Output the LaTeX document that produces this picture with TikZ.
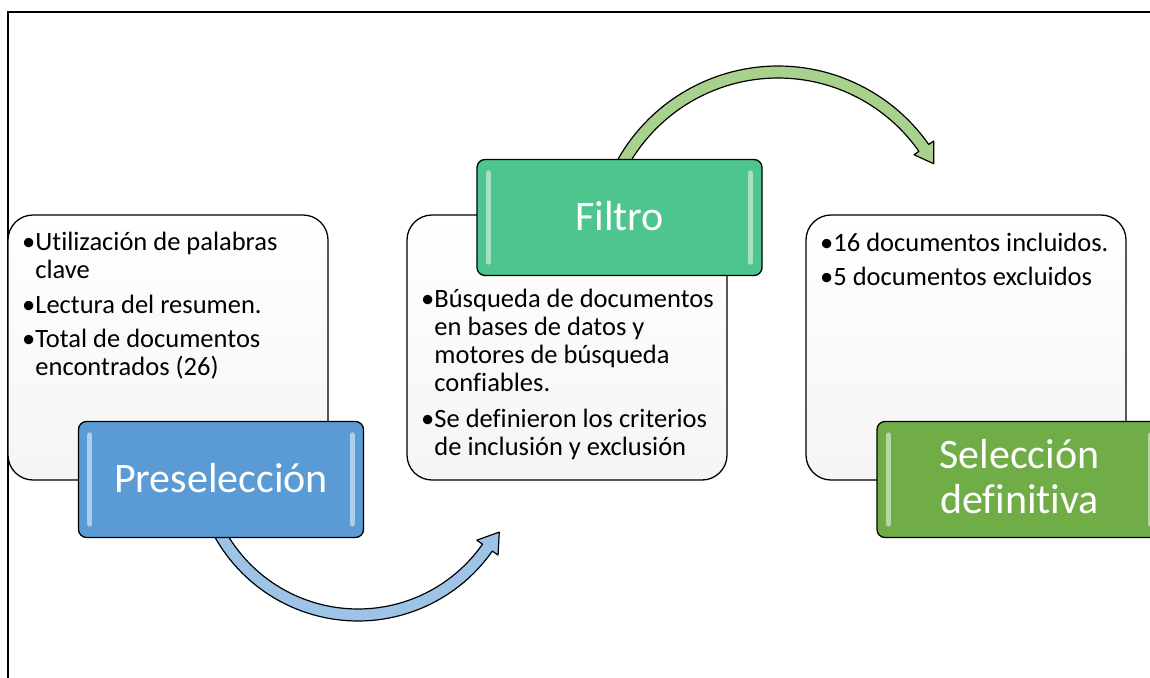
\documentclass[tikz,border=0pt]{standalone}
\usepackage{fontspec}
\setmainfont{Carlito}[Ligatures=NoCommon]
\definecolor{preblue}{RGB}{91,155,213}
\definecolor{filgreen}{RGB}{78,196,142}
\definecolor{selgreen}{RGB}{112,173,71}
\definecolor{arrblue}{RGB}{157,195,230}
\definecolor{arrgreen}{RGB}{169,209,142}
\tikzset{
 textbox/.style={draw=black, line width=1.3pt, rounded corners=25pt, top color=white, bottom color=black!4, minimum width=320pt, minimum height=265pt, inner sep=0pt},
 headbox/.style={draw=black, line width=1.3pt, rounded corners=8pt, minimum width=285pt, minimum height=116pt, inner sep=0pt},
 body/.style={font=\fontsize{26.5}{28}\selectfont, anchor=base west, inner sep=0pt, text=black},
 headtext/.style={font=\fontsize{42}{45}\selectfont, anchor=base, inner sep=0pt, text=white},
 shine/.style={line width=5pt, line cap=round, draw=white, opacity=0.5},
 arrowshape/.style={draw=black, line width=1.2pt, line join=round},
}
\begin{document}
\begin{tikzpicture}[x=1pt,y=-1pt]
\useasboundingbox (0,0) rectangle (1150,677);
\clip (0,0) rectangle (1150,677);
% frame
\draw[line width=1.5pt] (8,700) -- (8,12) -- (1170,12);
% blue curved arrow
\coordinate (bc) at (358,457);
\filldraw[arrowshape, fill=arrblue]
  plot[domain=158:35, samples=60, variable=\t] ({358+164*cos(\t)},{457+164*sin(\t)})
  -- ({358+171*cos(35)},{457+171*sin(35)})
  -- ({358+160*cos(28)},{457+160*sin(28)})
  -- ({358+145*cos(35)},{457+145*sin(35)})
  -- plot[domain=35:158, samples=60, variable=\t] ({358+152*cos(\t)},{457+152*sin(\t)})
  -- cycle;
% green curved arrow
\coordinate (gc) at (778,250);
\filldraw[arrowshape, fill=arrgreen]
  plot[domain=205:325, samples=60, variable=\t] ({778+172*cos(\t)},{250+172*sin(\t)})
  -- ({778+166*cos(325)},{250+166*sin(325)})
  -- ({778+178*cos(331)},{250+178*sin(331)})
  -- ({778+190*cos(325)},{250+190*sin(325)})
  -- plot[domain=325:205, samples=60, variable=\t] ({778+184*cos(\t)},{250+184*sin(\t)})
  -- cycle;
% text boxes
\node[textbox] (b1) at (168,347.5) {};
\node[textbox] (b2) at (567,347.5) {};
\node[textbox] (b3) at (966,347.5) {};
% header boxes
\node[headbox, fill=preblue] (h1) at (221,479.5) {};
\node[headbox, fill=filgreen] (h2) at (619.5,217.5) {};
\node[headbox, fill=selgreen] (h3) at (1019.5,479.5) {};
\foreach \h in {h1,h2,h3}{
  \draw[shine] ([xshift=12pt,yshift=-14pt]\h.north west) -- ([xshift=12pt,yshift=14pt]\h.south west);
  \draw[shine] ([xshift=-12pt,yshift=-14pt]\h.north east) -- ([xshift=-12pt,yshift=14pt]\h.south east);
}
% header texts
\node[headtext] (h1t) at (221,492) {Preselección};
\node[headtext] (h2t) at (619.5,230) {Filtro};
\node[headtext] (h3ta) at (1019.5,468) {Selección};
\node[headtext] (h3tb) at (1019.5,513) {definitiva};
% box 1 text
\node[body] (t11) at (22,250) {•Utilización de palabras};
\node[body] (t12) at (22,278) {\phantom{•}clave};
\node[body] (t13) at (22,313) {•Lectura del resumen.};
\node[body] (t14) at (22,347) {•Total de documentos};
\node[body] (t15) at (22,375) {\phantom{•}encontrados (26)};
% box 2 text
\node[body] (t21) at (421,307) {•Búsqueda de documentos};
\node[body] (t22) at (421,335) {\phantom{•}en bases de datos y};
\node[body] (t23) at (421,363) {\phantom{•}motores de búsqueda};
\node[body] (t24) at (421,391) {\phantom{•}confiables.};
\node[body] (t25) at (421,427) {•Se definieron los criterios};
\node[body] (t26) at (421,455) {\phantom{•}de inclusión y exclusión};
% box 3 text
\node[body] (t31) at (820,251) {•16 documentos incluidos.};
\node[body] (t32) at (820,285) {•5 documentos excluidos};
\end{tikzpicture}
\end{document}
